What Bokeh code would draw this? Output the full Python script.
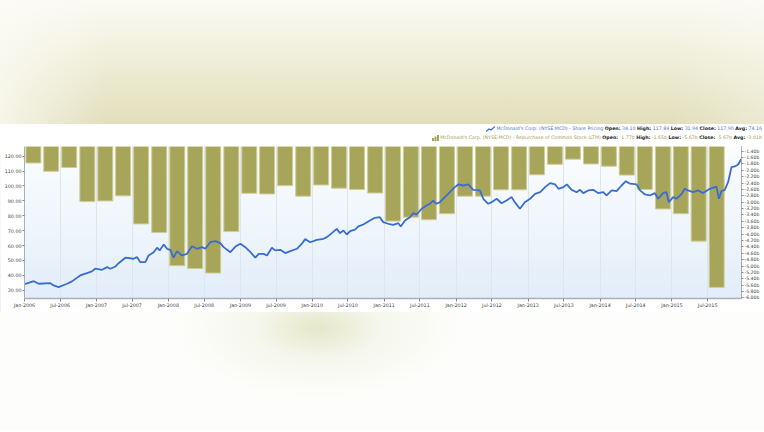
import pandas as pd
from bokeh.plotting import figure
from bokeh.models import (Range1d, LinearAxis, FixedTicker, PrintfTickFormatter,
                          DatetimeTickFormatter, Div, ColumnDataSource)
from bokeh.layouts import column
from bokeh.embed import file_html
from bokeh.resources import INLINE

# ---------------- data ----------------
# Repurchase of common stock (LTM), billions USD, quarterly 2006Q1 .. 2015Q3
quarter_first = "2006Q1"
quarter_last = "2015Q3"
repurchase = [-1.77, -2.03, -1.91, -2.98, -2.96, -2.80, -3.68, -3.95, -4.99, -5.08,
              -5.22, -3.92, -2.72, -2.74, -2.48, -2.81, -2.46, -2.56, -2.60, -2.71,
              -3.59, -3.47, -3.55, -3.36, -2.81, -2.81, -2.61, -2.61, -2.14, -1.81,
              -1.65, -1.80, -1.87, -2.15, -2.60, -3.21, -3.36, -4.22, -5.67]

# Share price, USD
price_dates = [
    "2006-01-02", "2006-02-17", "2006-03-14", "2006-05-12", "2006-05-29", "2006-06-23",
    "2006-08-05", "2006-08-30", "2006-10-11", "2006-11-14", "2006-12-09", "2006-12-26",
    "2007-01-30", "2007-02-24", "2007-03-13", "2007-04-08", "2007-04-24", "2007-05-28",
    "2007-07-09", "2007-07-26", "2007-08-12", "2007-09-07", "2007-09-23", "2007-10-19",
    "2007-11-05", "2007-11-18", "2007-12-09", "2007-12-26", "2008-01-11", "2008-01-28",
    "2008-02-14", "2008-03-10", "2008-04-05", "2008-04-30", "2008-05-26", "2008-06-20",
    "2008-07-07", "2008-08-01", "2008-08-27", "2008-09-21", "2008-10-08", "2008-11-11",
    "2008-12-07", "2009-01-01", "2009-01-26", "2009-02-21", "2009-03-18", "2009-04-04",
    "2009-04-29", "2009-05-16", "2009-06-10", "2009-06-27", "2009-07-22", "2009-08-17",
    "2009-09-11", "2009-10-15", "2009-11-09", "2009-11-26", "2009-12-21", "2010-01-24",
    "2010-02-27", "2010-03-16", "2010-04-10", "2010-05-05", "2010-05-22", "2010-06-08",
    "2010-06-25", "2010-07-12", "2010-08-06", "2010-08-23", "2010-09-17", "2010-10-21",
    "2010-11-15", "2010-12-10", "2010-12-27", "2011-01-22", "2011-02-16", "2011-03-14",
    "2011-03-26", "2011-04-17", "2011-05-12", "2011-05-29", "2011-06-15", "2011-07-10",
    "2011-08-04", "2011-08-21", "2011-09-07", "2011-09-24", "2011-10-11", "2011-11-05",
    "2011-11-22", "2011-12-09", "2011-12-26", "2012-01-12", "2012-02-06", "2012-03-03",
    "2012-03-28", "2012-05-01", "2012-05-18", "2012-06-12", "2012-06-29", "2012-07-25",
    "2012-08-19", "2012-09-13", "2012-10-09", "2012-10-25", "2012-11-20", "2012-12-15",
    "2013-01-11", "2013-02-05", "2013-03-03", "2013-03-28", "2013-04-22", "2013-05-18",
    "2013-06-04", "2013-06-29", "2013-07-16", "2013-08-10", "2013-09-04", "2013-09-21",
    "2013-10-08", "2013-11-02", "2013-11-27", "2013-12-22", "2014-01-17", "2014-02-03",
    "2014-03-01", "2014-03-26", "2014-04-20", "2014-05-12", "2014-06-02", "2014-07-06",
    "2014-07-23", "2014-08-17", "2014-09-11", "2014-10-06", "2014-10-23", "2014-11-17",
    "2014-12-04", "2014-12-16", "2015-01-07", "2015-01-24", "2015-02-19", "2015-03-07",
    "2015-03-24", "2015-04-18", "2015-05-14", "2015-06-08", "2015-07-12", "2015-08-15",
    "2015-08-27", "2015-09-09", "2015-09-26", "2015-10-13", "2015-10-30", "2015-11-16",
    "2015-12-03", "2015-12-18",
]
price = [
    34.1, 36.0, 34.3, 34.7, 33.2, 32.0,
    34.3, 35.9, 39.9, 41.4, 42.6, 44.4,
    43.7, 45.5, 44.4, 45.9, 48.1, 51.8,
    51.1, 52.2, 48.8, 48.8, 53.3, 55.5,
    58.5, 56.7, 60.7, 57.8, 57.1, 51.8,
    56.2, 53.3, 54.4, 59.5, 57.8, 58.9,
    57.8, 62.2, 62.9, 61.6, 58.9, 55.5,
    59.3, 61.2, 58.9, 55.5, 51.8, 54.4,
    54.4, 53.3, 58.5, 56.7, 57.1, 54.9,
    56.2, 57.8, 61.2, 64.3, 62.2, 63.8,
    64.5, 65.6, 68.3, 71.2, 68.3, 70.1,
    67.4, 69.6, 70.6, 72.8, 74.1, 76.8,
    78.6, 79.0, 75.7, 74.6, 73.9, 75.0,
    72.8, 76.8, 79.0, 81.7, 80.8, 84.7,
    86.9, 88.0, 90.2, 88.0, 89.1, 92.5,
    94.7, 97.0, 99.2, 101.0, 100.3, 101.0,
    97.4, 97.0, 91.4, 88.0, 89.1, 91.4,
    88.4, 90.2, 92.5, 89.1, 84.7, 89.1,
    91.4, 94.7, 95.8, 99.2, 101.9, 101.0,
    98.1, 99.2, 101.0, 97.4, 95.8, 97.4,
    95.2, 97.0, 97.4, 95.2, 95.8, 93.6,
    97.0, 96.5, 100.3, 103.2, 101.5, 101.0,
    97.0, 94.3, 93.6, 95.2, 91.4, 95.2,
    95.8, 89.1, 92.5, 91.4, 94.7, 98.1,
    97.0, 95.8, 97.0, 95.2, 98.1, 99.6,
    91.4, 96.5, 97.4, 102.5, 112.6, 113.1,
    114.4, 117.9,
]

price_ticks = [30, 40, 50, 60, 70, 80, 90, 100, 110, 120]
buyback_ticks = [-6.0, -5.8, -5.6, -5.4, -5.2, -5.0, -4.8, -4.6, -4.4, -4.2, -4.0, -3.8,
                 -3.6, -3.4, -3.2, -3.0, -2.8, -2.6, -2.4, -2.2, -2.0, -1.8, -1.6, -1.4]
date_tick_first = "2006-01-01"
date_tick_last = "2015-07-01"

# ---------------- derived ----------------
quarters = pd.period_range(quarter_first, quarter_last, freq="Q")
q_start = quarters.start_time
q_end = quarters.end_time
q_mid = q_start + (q_end - q_start) / 2
bar_src = ColumnDataSource(dict(x=q_mid, v=repurchase))

line_src = ColumnDataSource(dict(x=pd.to_datetime(price_dates), y=price))

x_ticks = [int(t.value // 10**6) for t in pd.date_range(date_tick_first, date_tick_last, freq="6MS")]

FONT = "DejaVu Sans"
TICK_COLOR = "#444444"
AXIS_COLOR = "#a9b0b8"
W = 764

x_start = pd.Timestamp("2006-01-01")
x_end = pd.Timestamp("2015-12-20")

p = figure(width=W, height=166, x_axis_type="datetime",
           x_range=Range1d(x_start, x_end), y_range=Range1d(24.4, 126.5),
           output_backend="svg", toolbar_location=None,
           min_border_top=0, min_border_bottom=14, min_border_left=24, min_border_right=23,
           background_fill_color="#eef5fc", background_fill_alpha=0.0,
           border_fill_color="white",
           outline_line_color=None, margin=0,
           styles={"background": "linear-gradient(to bottom, #fbfdff 0%, #f0f6fc 45%, #e2edf9 92%)"})

bn_range = Range1d(-6.018, -1.253)
p.extra_y_ranges = {"bn": bn_range}

bar_width = pd.Timedelta(days=76).total_seconds() * 1000
p.vbar(x="x", width=bar_width, top=bn_range.end, bottom="v", source=bar_src,
       y_range_name="bn", fill_color="#a7a55a", line_color="#cfcd98", line_width=1)

p.line(x="x", y="y", source=line_src, line_color="#3a6dd0", line_width=1.8)

# x axis
xa = p.xaxis[0]
xa.ticker = FixedTicker(ticks=x_ticks)
xa.formatter = DatetimeTickFormatter(days="%b-%Y", months="%b-%Y", years="%b-%Y")
xa.major_label_text_font = FONT
xa.major_label_text_font_size = "4.8px"
xa.major_label_text_color = TICK_COLOR
xa.major_label_standoff = 1
xa.major_tick_in = 0
xa.major_tick_out = 3
xa.minor_tick_line_color = None
xa.axis_line_color = AXIS_COLOR
xa.axis_line_width = 1.5
xa.major_tick_line_color = "#888888"

# left axis
ya = p.yaxis[0]
ya.ticker = FixedTicker(ticks=price_ticks)
ya.formatter = PrintfTickFormatter(format="%.2f")
ya.major_label_text_font = FONT
ya.major_label_text_font_size = "4.8px"
ya.major_label_text_color = TICK_COLOR
ya.major_label_standoff = 1
ya.major_tick_in = 0
ya.major_tick_out = 2
ya.minor_tick_line_color = None
ya.axis_line_color = AXIS_COLOR
ya.major_tick_line_color = "#888888"

# right axis
ra = LinearAxis(y_range_name="bn", ticker=FixedTicker(ticks=buyback_ticks),
                formatter=PrintfTickFormatter(format="%.2fb"))
ra.major_label_text_font = FONT
ra.major_label_text_font_size = "4.6px"
ra.major_label_text_color = TICK_COLOR
ra.major_label_standoff = 1
ra.major_tick_in = 0
ra.major_tick_out = 2
ra.minor_tick_line_color = None
ra.axis_line_color = AXIS_COLOR
ra.major_tick_line_color = "#888888"
p.add_layout(ra, "right")

p.xgrid.ticker = FixedTicker(ticks=x_ticks)
p.xgrid.grid_line_color = "#dde5ee"
p.ygrid.grid_line_color = None

# ---------------- surrounding page ----------------
top_div = Div(text="", width=W, height=124, margin=0, styles={
    "background": "linear-gradient(to right, rgba(252,252,246,0.75) 0%, rgba(252,252,246,0) 14%, rgba(252,252,246,0) 88%, rgba(252,252,246,0.35) 100%),"
                  "linear-gradient(to bottom, #fafaf6 0%, #f4f3e4 30%, #eae9cf 65%, #e1dfbb 100%)",
})

blue_icon = ('<svg width="9" height="6" style="vertical-align:middle">'
             '<polyline points="0,5.5 3,3 5,4 9,0.5" fill="none" stroke="#3a6dd0" stroke-width="1.3"/></svg>')
olive_icon = ('<svg width="7" height="6" style="vertical-align:middle">'
              '<rect x="0" y="3" width="2" height="3" fill="#a7a55a"/>'
              '<rect x="2.5" y="1.5" width="2" height="4.5" fill="#a7a55a"/>'
              '<rect x="5" y="0" width="2" height="6" fill="#a7a55a"/></svg>')


def stat(label, val, color):
    return f'<b style="color:#222">{label}</b> <span style="color:{color}">{val}</span>'


blue = "#4a78cc"
olive = "#a3a152"
line1 = (blue_icon + f' <span style="color:{blue}">McDonald&#39;s Corp. (NYSE:MCD) - Share Pricing</span> '
         + " ".join([stat("Open:", "34.10", blue), stat("High:", "117.84", blue),
                     stat("Low:", "31.94", blue), stat("Close:", "117.90", blue),
                     stat("Avg:", "74.16", blue)]))
line2 = (olive_icon + f' <span style="color:{olive}">McDonald&#39;s Corp. (NYSE:MCD) - Repurchase of Common Stock (LTM)</span> '
         + " ".join([stat("Open:", "-1.77b", olive), stat("High:", "-1.65b", olive),
                     stat("Low:", "-5.67b", olive), stat("Close:", "-5.67b", olive),
                     stat("Avg:", "-3.01b", olive)]))
legend_div = Div(text=f'<div style="white-space:nowrap">{line1}</div><div style="white-space:nowrap">{line2}</div>',
                 width=W, height=22, margin=0, styles={
                     "background": "white", "text-align": "right", "font-family": FONT,
                     "font-size": "4.72px", "line-height": "9px", "padding-top": "0px",
                     "padding-right": "2px", "box-sizing": "border-box",
                 })

bottom_div = Div(text="", width=W, height=118, margin=0, styles={
    "background": "radial-gradient(ellipse 140px 70px at 318px 16px, rgba(226,229,196,0.9), rgba(238,240,222,0.5) 45%, rgba(255,255,255,0) 100%),"
                  "linear-gradient(to bottom, #fdfdfb, #fdfdfc)",
})

layout = column(top_div, legend_div, p, bottom_div, spacing=0)

open("out.html", "w").write(file_html(layout, INLINE))
